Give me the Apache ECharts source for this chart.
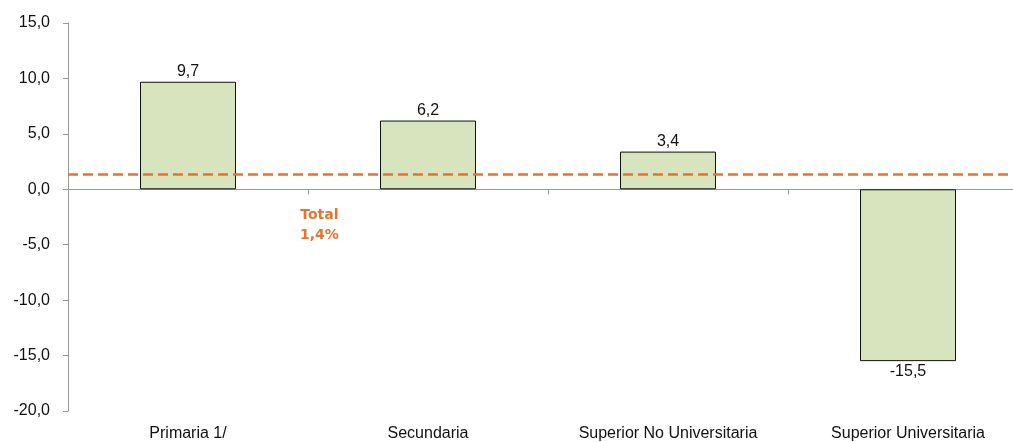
<!DOCTYPE html>
<html>
<head>
<meta charset="utf-8">
<script src="https://cdn.jsdelivr.net/npm/echarts@6/dist/echarts.min.js"></script>
<style>
  html, body { margin: 0; padding: 0; background: #fff; overflow: hidden; }
  #chart { width: 1028px; height: 442px; }
</style>
</head>
<body>
<div id="chart"></div>
<script>
var categories = ['Primaria 1/', 'Secundaria', 'Superior No Universitaria', 'Superior Universitaria'];
var values = [9.7, 6.2, 3.4, -15.5];
var totalValue = 1.4;
var yTicks = [-20, -15, -10, -5, 0, 5, 10, 15];

function fmt(v, d) {
  return v.toFixed(d).replace('.', ',');
}

// the plot runs a little past the right edge of the window, as in the original
var chart = echarts.init(document.getElementById('chart'));

var option = {
  animation: false,
  textStyle: { fontFamily: 'Liberation Sans, Arial, sans-serif' },
  grid: { left: 68, top: 23, right: 0, bottom: 31, containLabel: false },
  xAxis: [{
    type: 'category',
    data: categories,
    axisLine: { onZero: true, lineStyle: { color: '#999', width: 1 } },
    axisTick: { show: true, length: 5, lineStyle: { color: '#999' } },
    axisLabel: { show: false }
  }, {
    type: 'category',
    data: categories,
    position: 'bottom',
    axisLine: { show: false },
    axisTick: { show: false },
    axisLabel: { color: '#111', fontSize: 16, margin: 15 }
  }],
  yAxis: {
    type: 'value',
    min: yTicks[0],
    max: yTicks[yTicks.length - 1],
    interval: 5,
    splitLine: { show: false },
    axisLine: { show: true, lineStyle: { color: '#999' } },
    axisTick: { show: true, length: 5, lineStyle: { color: '#999' } },
    axisLabel: {
      color: '#111', fontSize: 16, margin: 18,
      formatter: function(v) { return fmt(v, 1); }
    }
  },
  series: [{
    type: 'bar',
    data: values,
    barWidth: '40%',
    itemStyle: { color: '#d7e4bd', borderColor: '#111', borderWidth: 1 },
    label: {
      show: true,
      position: 'outside',
      color: '#111',
      fontSize: 16,
      distance: 2,
      formatter: function(p) { return fmt(p.value, 1); }
    },
    markLine: {
      silent: true,
      symbol: 'none',
      label: { show: false },
      lineStyle: { color: '#e8732e', type: [10, 5], width: 2.5 },
      data: [{ yAxis: totalValue }]
    }
  }],
  graphic: [{
    type: 'text',
    left: 300,
    top: 205,
    style: {
      text: 'Total\n' + fmt(totalValue, 1) + '%',
      fill: '#e8732e',
      font: 'bold 14px "DejaVu Sans", sans-serif',
      textAlign: 'center',
      lineHeight: 20
    }
  }]
};

chart.setOption(option);
</script>
</body>
</html>
